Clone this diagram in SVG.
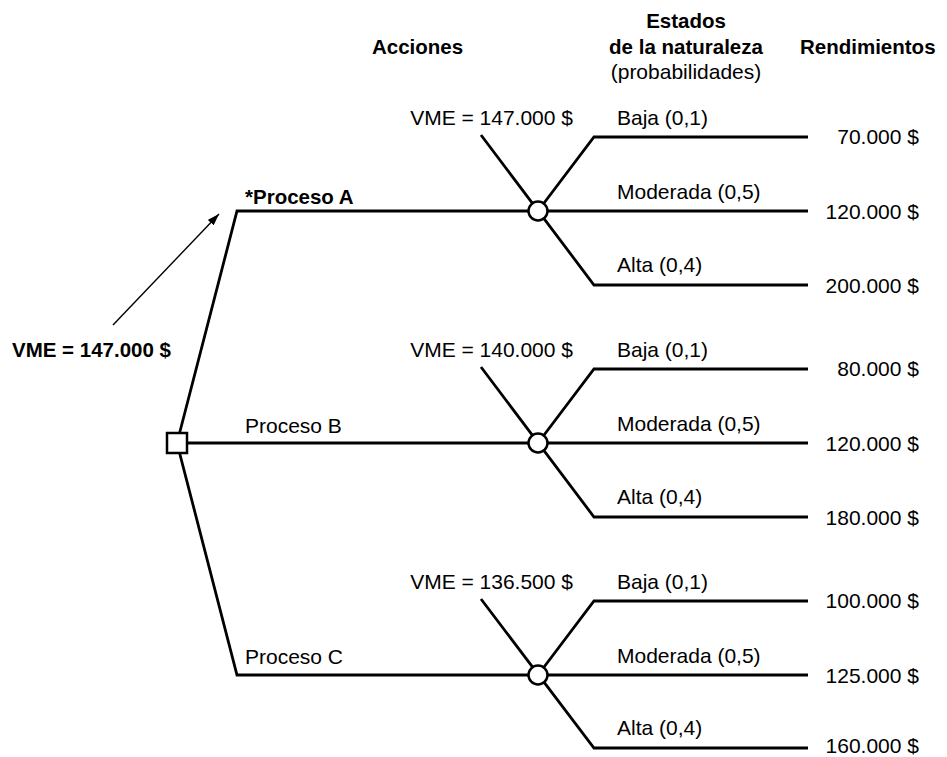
<svg xmlns="http://www.w3.org/2000/svg" width="947" height="757" viewBox="0 0 947 757">
<style>
text{font-family:"Liberation Sans",Arial,sans-serif;font-size:21px;fill:#000}
.b{font-weight:bold;font-size:20.5px}
.e{text-anchor:end}
.m{text-anchor:middle}
.ln{fill:none;stroke:#000;stroke-width:2.8;stroke-linejoin:miter}
.nd{fill:#fff;stroke:#000;stroke-width:2.5}
</style>
<defs>
<marker id="ah" viewBox="0 0 12 8" refX="12" refY="4" markerWidth="12" markerHeight="8" markerUnits="userSpaceOnUse" orient="auto">
<path d="M0,0 L12,4 L0,8 Z" fill="#000"/>
</marker>
</defs>
<g id="headers">
<text class="b" x="372" y="54">Acciones</text>
<text class="b m" x="686" y="28">Estados</text>
<text class="b m" x="686" y="54">de la naturaleza</text>
<text class="m" x="686" y="79">(probabilidades)</text>
<text class="b" x="800" y="54">Rendimientos</text>
</g>
<g id="connectors">
<path class="ln" d="M177 443 L237 211 H538"/>
<path class="ln" d="M177 443 H538"/>
<path class="ln" d="M177 443 L237 675 H538"/>
<path class="ln" d="M538 211 H808 M481 135 L594 285 H808 M538 211 L594 137 H808"/>
<path class="ln" d="M538 443 H808 M481 367 L594 517 H808 M538 443 L594 369 H808"/>
<path class="ln" d="M538 675 H808 M481 599 L594 748 H808 M538 675 L594 601 H808"/>
<line x1="113" y1="325" x2="219" y2="214" stroke="#000" stroke-width="1.4" marker-end="url(#ah)"/>
</g>
<g id="decision">
<rect class="nd" x="167" y="433" width="20" height="20"/>
<text class="b" x="12" y="357">VME = 147.000 $</text>
</g>
<g id="procesoA">
<text class="b" x="245" y="204">*Proceso A</text>
</g>
<g id="procesoB">
<text x="245" y="433">Proceso B</text>
</g>
<g id="procesoC">
<text x="245" y="664">Proceso C</text>
</g>
<g id="chanceA">
<circle class="nd" cx="538" cy="211" r="9.5"/>
<text class="e" x="573" y="125">VME = 147.000 $</text>
<text x="617" y="125">Baja (0,1)</text>
<text x="617" y="199">Moderada (0,5)</text>
<text x="617" y="272">Alta (0,4)</text>
<text class="e" x="919" y="144">70.000 $</text>
<text class="e" x="919" y="219">120.000 $</text>
<text class="e" x="919" y="293">200.000 $</text>
</g>
<g id="chanceB">
<circle class="nd" cx="538" cy="443" r="9.5"/>
<text class="e" x="573" y="357">VME = 140.000 $</text>
<text x="617" y="357">Baja (0,1)</text>
<text x="617" y="431">Moderada (0,5)</text>
<text x="617" y="504">Alta (0,4)</text>
<text class="e" x="919" y="376">80.000 $</text>
<text class="e" x="919" y="451">120.000 $</text>
<text class="e" x="919" y="525">180.000 $</text>
</g>
<g id="chanceC">
<circle class="nd" cx="538" cy="675" r="9.5"/>
<text class="e" x="573" y="589">VME = 136.500 $</text>
<text x="617" y="589">Baja (0,1)</text>
<text x="617" y="663">Moderada (0,5)</text>
<text x="617" y="735">Alta (0,4)</text>
<text class="e" x="919" y="608">100.000 $</text>
<text class="e" x="919" y="683">125.000 $</text>
<text class="e" x="919" y="753">160.000 $</text>
</g>
</svg>
